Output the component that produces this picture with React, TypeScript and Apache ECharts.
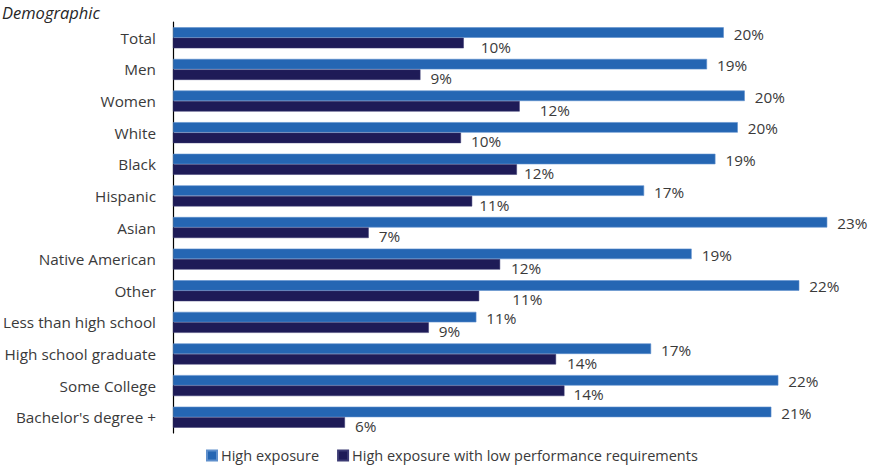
import React, { useEffect, useRef } from "react";
import * as echarts from "echarts";

const categories = [
  "Total",
  "Men",
  "Women",
  "White",
  "Black",
  "Hispanic",
  "Asian",
  "Native American",
  "Other",
  "Less than high school",
  "High school graduate",
  "Some College",
  "Bachelor's degree +",
];

const highExposure = [19.7, 19.1, 20.45, 20.2, 19.4, 16.85, 23.4, 18.55, 22.4, 10.85, 17.1, 21.65, 21.4];
const highExposureLowPerf = [10.4, 8.85, 12.4, 10.3, 12.3, 10.7, 7.0, 11.7, 10.95, 9.15, 13.7, 14.0, 6.15];

const seriesNames = ["High exposure", "High exposure with low performance requirements"];

// label nudges (layout only) for the dark series, in px
const darkLabelNudgeX = [7, 0, 10, 0, -3, -3, 0, 1, 23, 0, 1, -1, 0];

const FONT = "'Open Sans', 'Noto Sans', sans-serif";
const TEXT = "#3a3a3a";

export default function App() {
  const ref = useRef<HTMLDivElement>(null);
  useEffect(() => {
    if (!ref.current) return;
    const chart = echarts.init(ref.current, undefined, { renderer: "svg" });
    const fmt = (p: any) => Math.round(p.value) + "%";
    chart.setOption({
      animation: false,
      textStyle: { fontFamily: FONT },
      title: {
        text: "Demographic",
        left: 2,
        top: 4,
        padding: 0,
        textStyle: { fontFamily: FONT, fontSize: 16.5, fontStyle: "italic", fontWeight: "normal", color: "#262626" },
      },
      legend: {
        left: 206,
        top: 448,
        padding: 0,
        itemWidth: 10,
        itemHeight: 10,
        itemGap: 18,
        icon: "rect",
        textStyle: { fontFamily: FONT, fontSize: 14.5, color: TEXT, padding: [0, 0, 0, -1] },
        data: seriesNames,
      },
      grid: { left: 172, right: 3, top: 22, height: 411, containLabel: false },
      xAxis: {
        type: "value",
        min: 0,
        max: 25,
        show: false,
      },
      yAxis: {
        type: "category",
        inverse: true,
        data: categories,
        axisLine: { show: true, lineStyle: { color: "#000", width: 1.2 } },
        axisTick: { show: false },
        axisLabel: { color: TEXT, fontSize: 15.3, fontFamily: FONT, margin: 17 },
        splitLine: { show: false },
      },
      series: [
        {
          name: seriesNames[0],
          type: "bar",
          barWidth: 10.5,
          barGap: "0%",
          itemStyle: { color: "#2566B3", borderColor: "#5E8FCC", borderWidth: 0.6 },
          label: {
            show: true,
            position: "right",
            distance: 10,
            offset: [0, 1],
            color: TEXT,
            fontSize: 15.3,
            fontFamily: FONT,
            formatter: fmt,
          },
          data: highExposure,
        },
        {
          name: seriesNames[1],
          type: "bar",
          barWidth: 10.5,
          barGap: "0%",
          itemStyle: { color: "#1E1B57", borderColor: "#3B3A73", borderWidth: 0.5 },
          label: {
            show: true,
            position: "right",
            distance: 10,
            color: TEXT,
            fontSize: 15.3,
            fontFamily: FONT,
            formatter: fmt,
          },
          data: highExposureLowPerf.map((v, i) => ({
            value: v,
            label: { offset: [darkLabelNudgeX[i], 3.5] },
          })),
        },
      ],
    });
    return () => chart.dispose();
  }, []);
  return (
    <div
      ref={ref}
      style={{ position: "absolute", left: 0, top: 0, width: 875, height: 468, background: "#fff" }}
    />
  );
}
